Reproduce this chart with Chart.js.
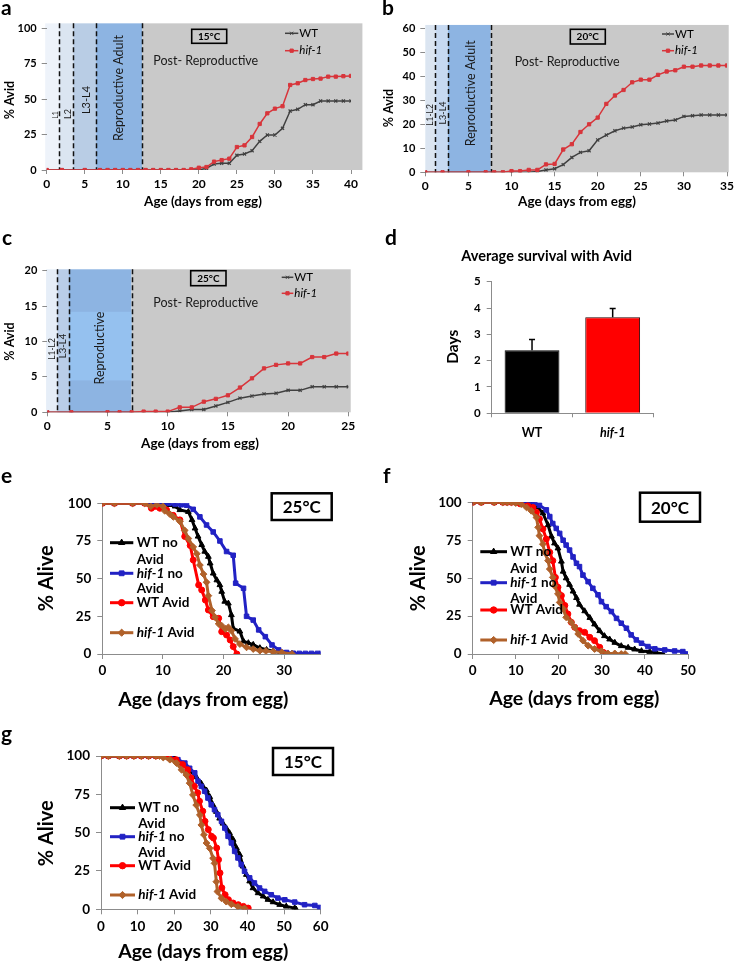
<!DOCTYPE html>
<html>
<head>
<meta charset="utf-8">
<script src="https://cdn.jsdelivr.net/npm/chart.js@4.4.1/dist/chart.umd.min.js"></script>
<style>
  body { margin: 0; background: #fff; width: 734px; height: 966px; position: relative; overflow: hidden; }
  canvas { position: absolute; left: 0; top: 0; }
</style>
</head>
<body>
<canvas id="ca" width="734" height="966"></canvas>
<canvas id="cb" width="734" height="966"></canvas>
<canvas id="cc" width="734" height="966"></canvas>
<canvas id="cd" width="734" height="966"></canvas>
<canvas id="ce" width="734" height="966"></canvas>
<canvas id="cf" width="734" height="966"></canvas>
<canvas id="cg" width="734" height="966"></canvas>
<script>
// ---- panel a (15°C, % Avid) ----
const aDays = [0,2,5,7,8,9,10,11,12,13,14,15,16,17,18,19,20,21,22,23,24,25,26,27,28,29,30,31,32,33,34,35,36,37,38,39,40];
const aWT   = [0,0,0,0,0,0,0,0,0,0,0,0,0,0,0,0,0,1.2,4.2,4.7,4.7,10.4,11.3,13.6,20.2,24.7,24.7,29.4,41.6,42.8,46.1,46.1,48.7,48.7,48.7,48.7,48.7];
const aHif  = [0,0,0,0,0,0,0,0,0,0,0,0,0,0,0,0.5,1.6,2.1,5.9,7,8,16.2,17.4,23.3,32.5,40,43.3,45,60,61.2,63.5,64.2,64.5,65.9,65.9,66.2,66.4];
const aStageEdges = [-0.2, 1.65, 3.5, 6.5, 12.55, 41.5];

// ---- panel b (20°C) ----
const bDays = [0,2,5,7,8,9,10,11,12,13,14,15,16,17,18,19,20,21,22,23,24,25,26,27,28,29,30,31,32,33,34,35];
const bWT   = [0,0,0,0,0,0,0,0,0,0.3,1,1.5,3.2,6.2,8.3,9,13.5,15.5,17.3,18.4,18.9,19.8,20.1,20.5,21.4,21.8,23.3,23.6,23.9,23.9,23.9,23.9];
const bHif  = [0,0,0,0,0,0,0.5,0.5,1,1,3.3,3.5,9.5,11.7,16.8,20,22.8,28.5,32,34.3,37.5,38.6,38.6,40.6,42,42.5,44,44,44.5,44.5,44.5,44.5];
const bStageEdges = [0, 1.16, 2.63, 7.6, 35.2];

// ---- panel c (25°C) ----
const cDays = [0,2,5,6,7,8,9,10,11,12,13,14,15,16,17,18,19,20,21,22,23,24,25];
const cWT   = [0,0,0,0,0,0,0,0,0.2,0.4,0.4,0.9,1.4,2.0,2.3,2.6,2.7,3.1,3.1,3.6,3.6,3.6,3.6];
const cHif  = [0,0,0,0,0,0.1,0.1,0.1,0.7,0.7,1.5,1.9,2.4,3.5,4.8,6.2,6.7,6.9,6.9,7.8,7.8,8.3,8.3];
const cStageEdges = [-0.1, 0.83, 1.8, 7.0, 25.2];

// ---- panel d (average survival with Avid) ----
const dLabels = ['WT', 'hif-1'];
const dMeans  = [2.4, 3.65];
const dErr    = [0.4, 0.33];

// ---- panel e (25°C survival) ----
const eWTnoX  = [0,2,5,7,8,9,10,11,12,12.8,14.2,14.8,15.3,15.8,16.4,16.9,17.5,17.8,18.3,18.9,19.4,19.7,20.2,20.8,21.3,21.6,22.7,23.3,24.1,24.9,26,27.1,28.2,29.6,31.3];
const eWTnoY  = [100,100,100,100,100,100,100,99,98,95.6,94.4,89,83.4,78,72.4,68,64.6,60.2,53.5,49,45.8,41.4,34.8,33.6,25.9,17,15,8.4,7.3,6.2,4,2.8,1.8,0.7,0.2];
const eHifNoX = [0,2,5,7,8,9,10,11,12,13,13.9,15,16.1,17.2,18.3,19.4,20.5,21.6,22,23.3,23.8,24.9,25.8,26.9,28,29.1,30.4,31.5,32.5,33.5,34.5,35.5,36.2];
const eHifNoY = [100,100,100,100,100,100,100,100,99.5,99,98.7,96,91,85.6,81,75,68,65.5,47,43.6,25,22.5,16,11.5,6,2.7,1,0.5,0.4,0.4,0.4,0.4,0.4];
const eWTavX  = [0,2,5,7,8.1,9.5,10.6,11.7,12.8,13.6,14.5,15,15.9,16.4,17,17.5,18.3,19.2,19.7,20.5,21.1,21.6,22.2];
const eWTavY  = [100,100,100,100,96.7,96.7,95.6,92,89,78,72,62.4,45.8,42.5,35.8,29.2,24.8,23.7,14.8,12.6,9.3,4.9,0];
const eHifAvX = [0,2,5,7,8,9,10,10.3,11.1,11.7,12.8,13.6,14.2,15,15.6,16.1,16.7,17.2,17.5,18.1,18.6,19.2,19.7,20.3,20.8,21.3,21.9,22.7,23.8,24.9,26,27,28.2,29.6,31.3];
const eHifAvY = [100,100,100,100,98,99,98,95,93,91,88,82,76.6,71,66.5,59,53,47.6,38.7,28.8,24.4,20,18.8,16.6,17.7,15.5,10,6.6,4.4,3.3,2.2,2,1.5,1,0];

// ---- panel f (20°C survival) ----
const fWTnoX  = [0,2,5,7,8,9,10,11,12,13,14,15,16.3,17.5,18.3,19,19.8,20.6,21,21.7,22.5,23.3,24.1,24.8,26,27.2,28.3,29.5,30.6,31.8,33,34.5,36.1,37.6,39.2,41.1,42.6,44.2];
const fWTnoY  = [100,100,100,100,100,100,100,100,100,100,99,97,92.8,85,77.5,73,69.7,61,54.4,50,45.7,41.3,37,32.6,28.3,23.9,19.6,15.2,11.9,9.7,7.5,5.3,4.2,3.1,2,1.5,0.9,0];
const fHifNoX = [0,2,5,7,8,9,10,11,12,13,14.4,15.5,17.1,17.9,18.6,19.4,20.2,21,21.7,22.5,23.3,24.1,24.8,25.6,26.8,27.9,29.1,29.9,31,32.2,33.4,34.5,35.7,36.8,38,39.2,40.7,42.3,44.6,46.9,48.8,50];
const fHifNoY = [100,100,100,100,100,100,100,100,100,100,99.5,98,95,90.6,86,82.8,79.5,75,71.8,68.5,64,59.8,57.6,52,47.7,43.3,39,34.5,31.2,28,23.5,20.3,17,12.6,9.3,7.1,4.9,3.4,2.7,2,1.6,0];
const fWTavX  = [0,2,5,7,8,9,10,11,12.8,14,14.8,15.5,16.3,17.1,17.9,18.6,19.2,19.8,20.6,21.4,22.1,22.9,23.7,24.8,26,27.2,28.3,29.5,30.3,31];
const fWTavY  = [100,100,100,100,100,100,100,99,97.7,96.6,93.4,89,82.4,75.8,67,61.5,50.5,44,38.5,32,26.4,20.9,17.6,15.4,14.3,11,8.8,4.4,1.1,0];
const fHifAvX = [0,2,5,7,8,9,10,11.3,12.5,13.6,14.8,15.2,15.5,16.3,16.7,17.5,17.9,18.6,19,19.8,20.2,21,21.7,22.9,23.7,24.5,25.6,26.8,28.3,29.9,31.4,33,34.5,35.4];
const fHifAvY = [100,100,100,100,100,100,99.5,98.8,96.6,94.4,90,83.5,78,72.4,67,61.5,56,50.5,45,39.6,34,29.7,24.2,20.9,17.6,13.2,8.8,5.5,3.3,1.8,0.4,0.4,0,0];

// ---- panel g (15°C survival) ----
const gWTnoX  = [0,2,5,7,9,11,13,15,17,19,20,22,24.2,26,27.4,28.8,29.7,30.6,31.5,32.4,33.3,34.2,35.1,36.1,37,37.9,38.8,39.7,40.6,41.5,42.9,44.3,45.6,47,48.8,50.6,52.9,53.3];
const gWTnoY  = [100,100,100,100,100,100,100,100,100,99.5,99,95,90.6,86.3,82,77.6,73.3,68,63.7,59.3,56,53,49.8,45.4,40,35.6,28,22.6,18.3,13.9,10.6,8.5,6.3,4.7,3,1.9,0.8,0];
const gHifNoX = [0,2,5,7,9,11,13,15,17,19,21,22.9,24.2,25.6,26.5,27.4,28.3,29.2,30.1,31,31.9,32.9,33.8,34.7,35.6,36.5,37.4,38.3,39.2,40.6,41.9,43.3,44.7,46.5,48.3,50.2,52.9,55.6,58.4,59.7];
const gHifNoY = [100,100,100,100,100,100,100,100,100,99,97.6,95.4,92,89,83.5,80.2,77,72.6,68.2,65,61.7,57.4,53,47.6,43.3,37.8,33.5,29.2,24.8,20.5,17.2,13.9,11.7,9.5,7.3,6.2,4.7,3,2.5,1.2];
const gWTavX  = [0,2,5,7,9,11,13,15,17,18.5,20.5,22.3,23.7,24.6,25.5,26.4,26.9,27.8,28.4,29.3,30.2,30.7,31.6,32.1,32.5,33,33.9,34.8,36.1,37.5,38.9,40.2];
const gWTavY  = [100,100,100,100,100,100,100,100,100,99,97.6,94.4,91,85.7,80.2,76,70.5,64,57.4,52,47.6,46.5,40,32.4,23.7,14,9.5,6.3,4.1,3,1.9,0.8];
const gHifAvX = [0,2,5,7,9,11,13,15,16,17,18.8,20.6,22,23.3,24.2,25.1,26,27,27.4,28.1,28.8,29.7,30.6,31,31.5,31.8,32.9,34.2,35.6,37.4,39.2];
const gHifAvY = [100,100,100,100,100,100,100,100,100,99,97.6,95.4,91,87.7,82.3,74.6,68,61.5,55,48.6,43.2,39.8,33.3,30,18,11.6,7.2,5,3.3,1.7,0.6];

const FONT = 'Lato, "Liberation Sans", sans-serif';
const W = 734, H = 966;

function pts(xs, ys) { return xs.map((x, i) => ({ x: x, y: ys[i] })); }

function txt(ctx, s, x, y, o) {
  o = o || {};
  ctx.save();
  ctx.font = (o.italic ? 'italic ' : '') + (o.bold ? 'bold ' : '') + (o.size || 12) + 'px ' + FONT;
  ctx.fillStyle = o.color || '#000';
  ctx.textAlign = o.align || 'left';
  ctx.textBaseline = 'middle';
  ctx.translate(x, y);
  if (o.rot) ctx.rotate(o.rot);
  ctx.fillText(s, 0, 0);
  ctx.restore();
}

// text made of italic / upright pieces, left aligned
function runs(ctx, parts, x, y, size, bold) {
  let cx = x;
  parts.forEach(p => {
    ctx.font = (p[1] ? 'italic ' : '') + (bold ? 'bold ' : '') + size + 'px ' + FONT;
    txt(ctx, p[0], cx, y, { italic: p[1], bold: bold, size: size });
    cx += ctx.measureText(p[0]).width;
  });
}

// place the plot area at page coords
function frame(a) {
  return { autoPadding: false, padding: { left: a.l - a.yw, top: a.t, right: W - a.r, bottom: H - a.b - a.xh } };
}

function axis(min, max, step, size, tickLen, pad, fit, border) {
  return {
    type: 'linear', min: min, max: max,
    ticks: { stepSize: step, includeBounds: false, color: '#000', padding: pad, font: { family: FONT, size: size, weight: 'bold' } },
    grid: { display: true, drawOnChartArea: false, drawTicks: true, tickLength: tickLen, color: '#8c8c8c' },
    border: { display: border, color: '#8c8c8c' },
    afterFit: fit
  };
}

function marker(ctx, x, y, style, r, color) {
  ctx.save();
  ctx.fillStyle = color; ctx.strokeStyle = color; ctx.lineWidth = 1;
  Chart.helpers.drawPoint(ctx, { pointStyle: style, radius: r, rotation: 0, borderWidth: 1 }, x, y);
  ctx.restore();
}

// ---------- % Avid panels (a, b, c) ----------
function avidPanel(id, area, xs, wt, hif, xmax, ymax, ystep, edges, fills, topVal, opts) {
  const plugin = {
    id: 'stages' + id,
    beforeDraw(chart) {
      const ctx = chart.ctx, x = chart.scales.x, y = chart.scales.y;
      const y0 = y.getPixelForValue(0), yt = y.getPixelForValue(topVal);
      for (let i = 0; i < fills.length; i++) {
        const x0 = x.getPixelForValue(edges[i]), x1 = x.getPixelForValue(edges[i + 1]);
        ctx.fillStyle = fills[i];
        ctx.fillRect(x0, yt, x1 - x0, y0 - yt);
      }
      if (opts.band) {
        const b = opts.band;
        const bx0 = x.getPixelForValue(b[0]), bx1 = x.getPixelForValue(b[1]);
        const by0 = y.getPixelForValue(b[2]), by1 = y.getPixelForValue(b[3]);
        ctx.fillStyle = b[4];
        ctx.fillRect(bx0, by1, bx1 - bx0, by0 - by1);
      }
      ctx.save();
      ctx.strokeStyle = '#111'; ctx.lineWidth = 1.5; ctx.setLineDash([5, 3]);
      for (let i = 1; i < edges.length - 1; i++) {
        const px = Math.round(x.getPixelForValue(edges[i])) + 0.5;
        ctx.beginPath(); ctx.moveTo(px, yt); ctx.lineTo(px, y0); ctx.stroke();
      }
      ctx.restore();
      opts.labels.forEach(l => txt(ctx, l[0], l[1], l[2], { size: l[3], color: '#1a1a1a', align: 'center', rot: -Math.PI / 2 }));
    },
    afterDraw(chart) {
      const ctx = chart.ctx;
      const pr = opts.post;
      txt(ctx, 'Post- Reproductive', pr[0], pr[1], { size: 12.5, color: '#1a1a1a' });
      const bx = opts.box;
      ctx.save(); ctx.strokeStyle = '#000'; ctx.lineWidth = 1.6;
      ctx.strokeRect(bx[0], bx[1], bx[2], bx[3]); ctx.restore();
      txt(ctx, opts.temp, bx[0] + bx[2] / 2, bx[1] + bx[3] / 2 + 0.5, { bold: true, size: 10, align: 'center' });
      const lg = opts.legend; // [x0, x1, yWT, yHif]
      ctx.save(); ctx.lineWidth = 1.5;
      ctx.strokeStyle = '#404040'; ctx.beginPath(); ctx.moveTo(lg[0], lg[2]); ctx.lineTo(lg[1], lg[2]); ctx.stroke();
      ctx.strokeStyle = '#d8353b'; ctx.beginPath(); ctx.moveTo(lg[0], lg[3]); ctx.lineTo(lg[1], lg[3]); ctx.stroke();
      ctx.restore();
      marker(ctx, (lg[0] + lg[1]) / 2, lg[2], 'crossRot', 2.2, '#404040');
      marker(ctx, (lg[0] + lg[1]) / 2, lg[3], 'rect', 2.3, '#d8353b');
      txt(ctx, 'WT', lg[1] + 1, lg[2], { size: 11.5 });
      txt(ctx, 'hif-1', lg[1] + 1, lg[3], { size: 11.5, italic: true });
      // axis titles and panel letter
      txt(ctx, '% Avid', opts.ytitle[0], opts.ytitle[1], { bold: true, size: 12.5, align: 'center', rot: -Math.PI / 2 });
      txt(ctx, 'Age (days from egg)', opts.xtitle[0], opts.xtitle[1], { bold: true, size: 13.5, align: 'center' });
      txt(ctx, opts.letter[0], opts.letter[1], opts.letter[2], { bold: true, size: 21 });
    }
  };
  return new Chart(document.getElementById(id), {
    type: 'line',
    data: {
      datasets: [
        { label: 'hif-1', data: pts(xs, hif), borderColor: '#d8353b', backgroundColor: '#d8353b', borderWidth: 1.5,
          pointStyle: 'rect', pointRadius: 2.3, pointBorderWidth: 1, order: 0 },
        { label: 'WT', data: pts(xs, wt), borderColor: '#404040', backgroundColor: '#404040', borderWidth: 1.5,
          pointStyle: 'crossRot', pointRadius: 2.2, pointBorderWidth: 1.2, order: 1 }
      ]
    },
    options: {
      responsive: false, animation: false, devicePixelRatio: 1,
      layout: frame(area),
      plugins: { legend: { display: false }, tooltip: { enabled: false } },
      scales: {
        x: axis(0, xmax, 5, 12, 4, 3, s => { s.height = area.xh; s.paddingLeft = 0; s.paddingRight = 0; }, false),
        y: axis(0, ymax, ystep, 11, 5, 5, s => { s.width = area.yw; s.paddingTop = 0; s.paddingBottom = 0; }, false)
      }
    },
    plugins: [plugin]
  });
}

avidPanel('ca', { l: 46.7, r: 351, t: 28.3, b: 170, yw: 40, xh: 30 }, aDays, aWT, aHif, 40, 100, 25,
  aStageEdges, ['#eef3fa', '#dbe5f1', '#b9cde5', '#8db4e2', '#c9c9c9'], 103.5, {
    labels: [['L1', 55.5, 115, 7], ['L2', 68, 114, 9], ['L3-L4', 86, 100, 11], ['Reproductive Adult', 118.5, 88, 12.5]],
    post: [153.3, 61], box: [191.7, 29.3, 35, 14], temp: '15°C', legend: [285, 298.3, 33.3, 50.7],
    ytitle: [10, 100], xtitle: [203, 201.7], letter: ['a', 1, 8]
  });

avidPanel('cb', { l: 425.3, r: 727, t: 28.3, b: 172.3, yw: 40, xh: 30 }, bDays, bWT, bHif, 35, 60, 10,
  bStageEdges, ['#dbe5f1', '#c6d9f1', '#8db4e2', '#c9c9c9'], 61.4, {
    labels: [['L1-L2', 430, 115, 8.5], ['L3-L4', 443, 113, 9], ['Reproductive Adult', 471, 93.3, 12.5]],
    post: [514.7, 62], box: [570.3, 29.3, 35, 14.7], temp: '20°C', legend: [662, 674, 34, 50.7],
    ytitle: [389, 108], xtitle: [577, 202], letter: ['b', 382, 8]
  });

avidPanel('cc', { l: 47.3, r: 348.3, t: 270.7, b: 412.3, yw: 40, xh: 30 }, cDays, cWT, cHif, 25, 20, 5,
  cStageEdges, ['#e6eef8', '#b9cde8', '#8db4e2', '#c9c9c9'], 20.2, {
    band: [1.8, 7.0, 4.5, 14.2, '#95c1ef'],
    labels: [['L1-L2', 52.3, 349, 8.5], ['L3-L4', 63.3, 346, 9.5], ['Reproductive', 100, 348, 12.5]],
    post: [153.3, 303.3], box: [190.7, 270.7, 35.3, 15], temp: '25°C', legend: [281.7, 293.3, 277.3, 293.3],
    ytitle: [10, 341.5], xtitle: [200, 444], letter: ['c', 2, 238]
  });

// ---------- panel d ----------
(function () {
  const area = { l: 491.7, r: 653, t: 281.7, b: 413.3, yw: 40, xh: 30 };
  const errPlugin = {
    id: 'errbars',
    afterDatasetsDraw(chart) {
      const ctx = chart.ctx, y = chart.scales.y, meta = chart.getDatasetMeta(0);
      ctx.save(); ctx.strokeStyle = '#000'; ctx.lineWidth = 1.5;
      meta.data.forEach((bar, i) => {
        const yt = y.getPixelForValue(dMeans[i] + dErr[i]), yb = y.getPixelForValue(dMeans[i]);
        ctx.beginPath(); ctx.moveTo(bar.x, yb); ctx.lineTo(bar.x, yt);
        ctx.moveTo(bar.x - 3, yt); ctx.lineTo(bar.x + 3, yt); ctx.stroke();
      });
      ctx.restore();
    },
    afterDraw(chart) {
      const ctx = chart.ctx;
      txt(ctx, 'Average survival with Avid', 546.7, 256.7, { bold: true, size: 14.5, align: 'center' });
      txt(ctx, 'Days', 453, 346.7, { bold: true, size: 15.5, align: 'center', rot: -Math.PI / 2 });
      txt(ctx, 'd', 385, 238, { bold: true, size: 21 });
    }
  };
  new Chart(document.getElementById('cd'), {
    type: 'bar',
    data: {
      labels: dLabels,
      datasets: [{ data: dMeans, backgroundColor: ['#000000', '#ff0000'], borderColor: ['#000000', '#2b0000'],
        borderWidth: 1, barPercentage: 0.68, categoryPercentage: 1 }]
    },
    options: {
      responsive: false, animation: false, devicePixelRatio: 1,
      layout: frame(area),
      plugins: { legend: { display: false }, tooltip: { enabled: false } },
      scales: {
        x: {
          type: 'category', offset: true,
          ticks: { color: '#000', padding: 8, font: c => ({ family: FONT, size: 12.5, weight: 'bold', style: c.index === 1 ? 'italic' : 'normal' }) },
          grid: { display: true, offset: true, drawOnChartArea: false, drawTicks: true, tickLength: 4, color: '#8c8c8c' },
          border: { display: true, color: '#8c8c8c' },
          afterFit: s => { s.height = area.xh; s.paddingLeft = 0; s.paddingRight = 0; }
        },
        y: axis(0, 5, 1, 11.5, 5, 6, s => { s.width = area.yw; s.paddingTop = 0; s.paddingBottom = 0; }, true)
      }
    },
    plugins: [errPlugin]
  });
})();

// ---------- survival panels (e, f, g) ----------
const survColors = { wtNo: '#000000', hifNo: '#2222c4', wtAv: '#ff0000', hifAv: '#b0612a' };

function survPanel(id, area, xmax, series, opts) {
  const plugin = {
    id: 'surv' + id,
    afterDraw(chart) {
      const ctx = chart.ctx, lg = opts.legend;
      const rows = [
        { c: survColors.wtNo, s: 'triangle', r: 3.6, y: lg.ys[0], t: [['WT no', false]] },
        { c: survColors.hifNo, s: 'rect', r: 3.4, y: lg.ys[1], t: [['hif-1', true], [' no', false]] },
        { c: survColors.wtAv, s: 'circle', r: 3.2, y: lg.ys[2], t: [['WT Avid', false]] },
        { c: survColors.hifAv, s: 'rectRot', r: 3.6, y: lg.ys[3], t: [['hif-1', true], [' Avid', false]] }
      ];
      rows.forEach(rw => {
        ctx.save(); ctx.strokeStyle = rw.c; ctx.lineWidth = 3;
        ctx.beginPath(); ctx.moveTo(lg.x0, rw.y); ctx.lineTo(lg.x1, rw.y); ctx.stroke(); ctx.restore();
        marker(ctx, (lg.x0 + lg.x1) / 2, rw.y, rw.s, rw.r, rw.c);
        runs(ctx, rw.t, lg.tx, rw.y, 13.5, true);
      });
      txt(ctx, 'Avid', lg.tx, lg.y2[0], { bold: true, size: 13.5 });
      txt(ctx, 'Avid', lg.tx, lg.y2[1], { bold: true, size: 13.5 });
      const bx = opts.box;
      ctx.save(); ctx.strokeStyle = '#000'; ctx.lineWidth = 2.5;
      ctx.strokeRect(bx[0], bx[1], bx[2], bx[3]); ctx.restore();
      txt(ctx, opts.temp, bx[0] + bx[2] / 2, bx[1] + bx[3] / 2 + 1, { bold: true, size: 17, align: 'center' });
      txt(ctx, '% Alive', opts.ytitle[0], opts.ytitle[1], { bold: true, size: 20, align: 'center', rot: -Math.PI / 2 });
      txt(ctx, 'Age (days from egg)', opts.xtitle[0], opts.xtitle[1], { bold: true, size: 19.5, align: 'center' });
      txt(ctx, opts.letter[0], opts.letter[1], opts.letter[2], { bold: true, size: 21 });
    }
  };
  const ds = (label, xs, ys, color, style, r, order) => ({
    label: label, data: pts(xs, ys), borderColor: color, backgroundColor: color, borderWidth: 3,
    pointStyle: style, pointRadius: r, pointBorderWidth: 1, order: order
  });
  return new Chart(document.getElementById(id), {
    type: 'line',
    data: {
      datasets: [
        ds('WT no Avid', series[0], series[1], survColors.wtNo, 'triangle', 3.3, 3),
        ds('hif-1 no Avid', series[2], series[3], survColors.hifNo, 'rect', 3.2, 2),
        ds('WT Avid', series[4], series[5], survColors.wtAv, 'circle', 3, 1),
        ds('hif-1 Avid', series[6], series[7], survColors.hifAv, 'rectRot', 3.4, 0)
      ]
    },
    options: {
      responsive: false, animation: false, devicePixelRatio: 1,
      layout: frame(area),
      plugins: { legend: { display: false }, tooltip: { enabled: false } },
      scales: {
        x: axis(0, xmax, 10, 13.5, 5, 4, s => { s.height = area.xh; s.paddingLeft = 0; s.paddingRight = 0; }, true),
        y: axis(0, 100, 25, 13.5, 5, 6, s => { s.width = area.yw; s.paddingTop = 0; s.paddingBottom = 0; }, true)
      }
    },
    plugins: [plugin]
  });
}

survPanel('ce', { l: 102.3, r: 320.5, t: 503.3, b: 654, yw: 45, xh: 30 }, 36,
  [eWTnoX, eWTnoY, eHifNoX, eHifNoY, eWTavX, eWTavY, eHifAvX, eHifAvY], {
    legend: { x0: 110, x1: 133.3, tx: 136.7, ys: [542.7, 573.3, 602.7, 632.7], y2: [559.3, 588.3] },
    box: [271.7, 493.3, 60, 26.7], temp: '25°C', ytitle: [46.7, 578.3], xtitle: [203.3, 700], letter: ['e', 1, 476]
  });

survPanel('cf', { l: 472.7, r: 688, t: 502.3, b: 654, yw: 45, xh: 30 }, 50,
  [fWTnoX, fWTnoY, fHifNoX, fHifNoY, fWTavX, fWTavY, fHifAvX, fHifAvY], {
    legend: { x0: 480.3, x1: 507, tx: 510.3, ys: [551.7, 582.7, 610, 640], y2: [569, 598.3] },
    box: [640, 492.7, 60, 29], temp: '20°C', ytitle: [418.7, 578.3], xtitle: [574.3, 698.3], letter: ['f', 383, 476]
  });

survPanel('cg', { l: 101, r: 320.7, t: 756, b: 909.3, yw: 45, xh: 30 }, 60,
  [gWTnoX, gWTnoY, gHifNoX, gHifNoY, gWTavX, gWTavY, gHifAvX, gHifAvY], {
    legend: { x0: 110, x1: 135, tx: 138.3, ys: [807.7, 836.7, 865.7, 895], y2: [823.3, 852.3] },
    box: [273, 748, 60, 27], temp: '15°C', ytitle: [46.7, 833.3], xtitle: [203.3, 951.7], letter: ['g', 1, 734]
  });
</script>
</body>
</html>
